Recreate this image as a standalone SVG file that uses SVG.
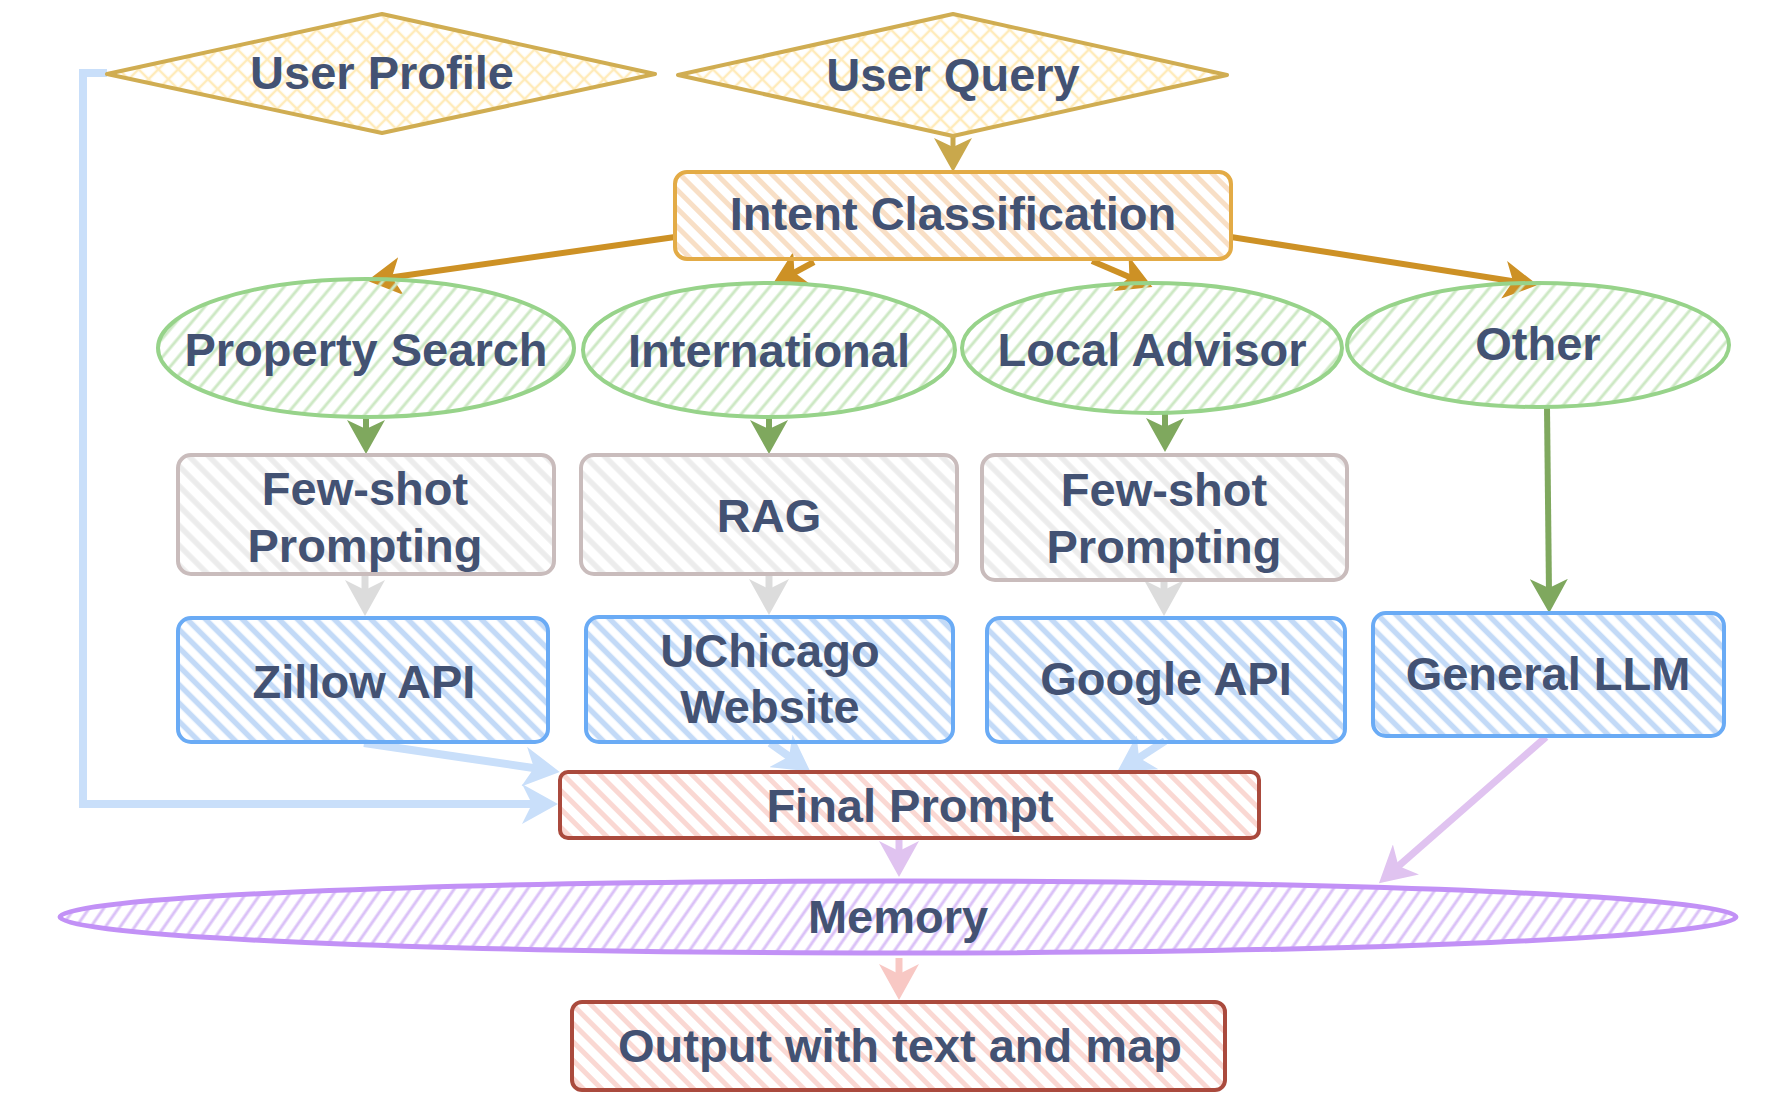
<svg xmlns="http://www.w3.org/2000/svg" width="1773" height="1109" viewBox="0 0 1773 1109">
<defs>
  <pattern id="hx" patternUnits="userSpaceOnUse" width="14" height="14" patternTransform="rotate(45)">
    <line x1="7" y1="0" x2="7" y2="14" stroke="#FFEBBA" stroke-width="2.5"/>
    <line x1="0" y1="7" x2="14" y2="7" stroke="#FFEBBA" stroke-width="2.5"/>
  </pattern>
  <pattern id="hor" patternUnits="userSpaceOnUse" width="13" height="13" patternTransform="rotate(-45)">
    <line x1="6.5" y1="0" x2="6.5" y2="13" stroke="#F8DFC6" stroke-width="5"/>
  </pattern>
  <pattern id="hgr" patternUnits="userSpaceOnUse" width="12" height="12" patternTransform="rotate(40)">
    <line x1="6" y1="0" x2="6" y2="12" stroke="#CDE8C4" stroke-width="3"/>
  </pattern>
  <pattern id="hgy" patternUnits="userSpaceOnUse" width="14" height="14" patternTransform="rotate(-45)">
    <line x1="7" y1="0" x2="7" y2="14" stroke="#ECECEC" stroke-width="5.5"/>
  </pattern>
  <pattern id="hbl" patternUnits="userSpaceOnUse" width="13" height="13" patternTransform="rotate(-45)">
    <line x1="6.5" y1="0" x2="6.5" y2="13" stroke="#C3DAF7" stroke-width="5.5"/>
  </pattern>
  <pattern id="hrd" patternUnits="userSpaceOnUse" width="13" height="13" patternTransform="rotate(-45)">
    <line x1="6.5" y1="0" x2="6.5" y2="13" stroke="#FAD8D3" stroke-width="5"/>
  </pattern>
  <pattern id="hpu" patternUnits="userSpaceOnUse" width="12" height="12" patternTransform="rotate(35)">
    <line x1="6" y1="0" x2="6" y2="12" stroke="#DAC1F7" stroke-width="3"/>
  </pattern>
  <marker id="aGold" markerUnits="userSpaceOnUse" markerWidth="38" markerHeight="38" refX="14" refY="19" orient="auto" viewBox="0 0 38 38"><path d="M0,0 L34,19 L0,38 L9,19 Z" fill="#C9A84C"/></marker>
  <marker id="aOr" markerUnits="userSpaceOnUse" markerWidth="38" markerHeight="38" refX="14" refY="19" orient="auto" viewBox="0 0 38 38"><path d="M0,0 L34,19 L0,38 L9,19 Z" fill="#CD9125"/></marker>
  <marker id="aGr" markerUnits="userSpaceOnUse" markerWidth="38" markerHeight="38" refX="14" refY="19" orient="auto" viewBox="0 0 38 38"><path d="M0,0 L34,19 L0,38 L9,19 Z" fill="#7FA85E"/></marker>
  <marker id="aGy" markerUnits="userSpaceOnUse" markerWidth="40" markerHeight="40" refX="16" refY="20" orient="auto" viewBox="0 0 40 40"><path d="M0,0 L36,20 L0,40 L10,20 Z" fill="#DCDCDC"/></marker>
  <marker id="aBl" markerUnits="userSpaceOnUse" markerWidth="40" markerHeight="40" refX="16" refY="20" orient="auto" viewBox="0 0 40 40"><path d="M0,0 L36,20 L0,40 L10,20 Z" fill="#C9DFFA"/></marker>
  <marker id="aPu" markerUnits="userSpaceOnUse" markerWidth="40" markerHeight="40" refX="16" refY="20" orient="auto" viewBox="0 0 40 40"><path d="M0,0 L36,20 L0,40 L10,20 Z" fill="#E0C3F0"/></marker>
  <marker id="aPk" markerUnits="userSpaceOnUse" markerWidth="40" markerHeight="40" refX="16" refY="20" orient="auto" viewBox="0 0 40 40"><path d="M0,0 L36,20 L0,40 L10,20 Z" fill="#F8C8C4"/></marker>
</defs>
<style>
  text { font-family: "Liberation Sans", Arial, Helvetica, sans-serif; font-weight: bold; font-size: 47px; fill: #435273; text-anchor: middle; }
  .dia { fill: url(#hx); stroke: #D0AD52; stroke-width: 4; stroke-linejoin: round; }
  .ic { fill: url(#hor); stroke: #E3AB46; stroke-width: 4; }
  .el { fill: url(#hgr); stroke: #97D38A; stroke-width: 4; }
  .gy { fill: url(#hgy); stroke: #C9BCBC; stroke-width: 4; }
  .bl { fill: url(#hbl); stroke: #6AABF5; stroke-width: 4; }
  .rd { fill: url(#hrd); stroke: #AA4A3D; stroke-width: 4; }
  .mem { fill: url(#hpu); stroke: #C291F6; stroke-width: 5; }
  .c { fill: none; stroke-linecap: butt; }
  .cGold { stroke: #C9A84C; stroke-width: 5; }
  .cOr { stroke: #CD9125; stroke-width: 6; }
  .cGr { stroke: #7FA85E; stroke-width: 6; }
  .cGy { stroke: #DCDCDC; stroke-width: 7; }
  .cBl { stroke: #C9DFFA; stroke-width: 8; }
  .cPu { stroke: #E0C3F0; stroke-width: 7; }
  .cPk { stroke: #F8C8C4; stroke-width: 7; }
</style>

<g id="connectors">
  <path class="c cBl" d="M107,73 H83 V804 H538" marker-end="url(#aBl)"/>
  <path class="c cGold" d="M953,136 V152" marker-end="url(#aGold)"/>
  <path class="c cOr" d="M675,237 L387,278" marker-end="url(#aOr)"/>
  <path class="c cOr" d="M814,262 L790,275" marker-end="url(#aOr)"/>
  <path class="c cOr" d="M1092,261 L1134,279" marker-end="url(#aOr)"/>
  <path class="c cOr" d="M1231,237 L1518,282" marker-end="url(#aOr)"/>
  <path class="c cGr" d="M366,417 V434" marker-end="url(#aGr)"/>
  <path class="c cGr" d="M769,417 V434" marker-end="url(#aGr)"/>
  <path class="c cGr" d="M1165,413 V432" marker-end="url(#aGr)"/>
  <path class="c cGr" d="M1547,407 L1549,593" marker-end="url(#aGr)"/>
  <path class="c cGy" d="M365,575 V596" marker-end="url(#aGy)"/>
  <path class="c cGy" d="M769,575 V595" marker-end="url(#aGy)"/>
  <path class="c cGy" d="M1164,581 V596" marker-end="url(#aGy)"/>
  <path class="c cBl" d="M364,743 L540,769" marker-end="url(#aBl)"/>
  <path class="c cBl" d="M770,743 L794,760" marker-end="url(#aBl)"/>
  <path class="c cBl" d="M1165,741 L1134,761" marker-end="url(#aBl)"/>
  <path class="c cPu" d="M899,838 V857" marker-end="url(#aPu)"/>
  <path class="c cPu" d="M1546,737 L1394,870" marker-end="url(#aPu)"/>
  <path class="c cPk" d="M899,958 V980" marker-end="url(#aPk)"/>
</g>

<g id="user-profile">
  <polygon class="dia" points="107,74 382,14 655,74 382,133"/>
  <text x="382" y="89">User Profile</text>
</g>
<g id="user-query">
  <polygon class="dia" points="678,75 953,14 1227,75 953,136"/>
  <text x="953" y="91">User Query</text>
</g>
<g id="intent-classification">
  <rect class="ic" x="675" y="172" width="556" height="87" rx="12"/>
  <text x="953" y="230">Intent Classification</text>
</g>
<g id="property-search">
  <ellipse class="el" cx="366" cy="348" rx="208" ry="69"/>
  <text x="366" y="366">Property Search</text>
</g>
<g id="international">
  <ellipse class="el" cx="769" cy="350" rx="186" ry="67"/>
  <text x="769" y="367">International</text>
</g>
<g id="local-advisor">
  <ellipse class="el" cx="1152" cy="348" rx="190" ry="65"/>
  <text x="1152" y="366">Local Advisor</text>
</g>
<g id="other">
  <ellipse class="el" cx="1538" cy="345" rx="191" ry="62"/>
  <text x="1538" y="360">Other</text>
</g>
<g id="few-shot-1">
  <rect class="gy" x="178" y="455" width="376" height="119" rx="13"/>
  <text x="365" y="505">Few-shot</text>
  <text x="365" y="562">Prompting</text>
</g>
<g id="rag">
  <rect class="gy" x="581" y="455" width="376" height="119" rx="13"/>
  <text x="769" y="532">RAG</text>
</g>
<g id="few-shot-2">
  <rect class="gy" x="982" y="455" width="365" height="125" rx="13"/>
  <text x="1164" y="506">Few-shot</text>
  <text x="1164" y="563">Prompting</text>
</g>
<g id="zillow-api">
  <rect class="bl" x="178" y="618" width="370" height="124" rx="13"/>
  <text x="364" y="698">Zillow API</text>
</g>
<g id="uchicago-website">
  <rect class="bl" x="586" y="617" width="367" height="125" rx="13"/>
  <text x="770" y="667">UChicago</text>
  <text x="770" y="723">Website</text>
</g>
<g id="google-api">
  <rect class="bl" x="987" y="618" width="358" height="124" rx="13"/>
  <text x="1166" y="695">Google API</text>
</g>
<g id="general-llm">
  <rect class="bl" x="1373" y="613" width="351" height="123" rx="13"/>
  <text x="1548" y="690">General LLM</text>
</g>
<g id="final-prompt">
  <rect class="rd" x="560" y="772" width="699" height="66" rx="8"/>
  <text x="910" y="822">Final Prompt</text>
</g>
<g id="memory">
  <ellipse class="mem" cx="898" cy="917" rx="838" ry="36"/>
  <text x="898" y="933">Memory</text>
</g>
<g id="output">
  <rect class="rd" x="572" y="1002" width="653" height="88" rx="10"/>
  <text x="900" y="1062">Output with text and map</text>
</g>
</svg>
